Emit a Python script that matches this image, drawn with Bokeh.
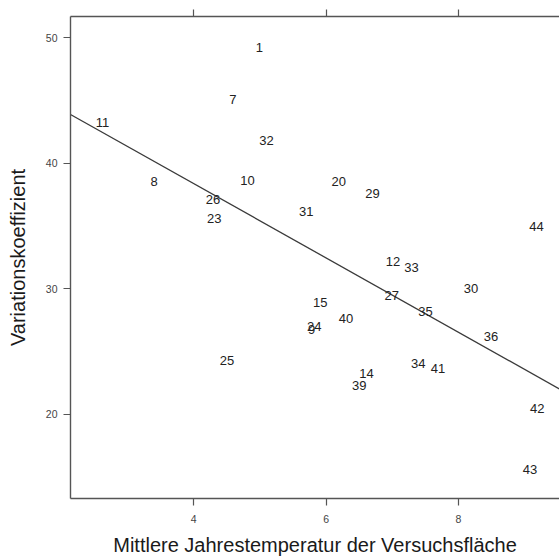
from bokeh.plotting import figure
from bokeh.models import (ColumnDataSource, LinearAxis, FixedTicker, Range1d,
                          CustomLabelingPolicy)
from bokeh.core.properties import value
from bokeh.embed import file_html
from bokeh.resources import INLINE

# Plot numbers (site IDs), mean annual temperature and coefficient of variation
site_ids = ["1", "7", "11", "32", "8", "10", "26", "23", "20", "29", "31", "44",
            "12", "33", "30", "27", "15", "35", "40", "24", "9", "36", "34", "41",
            "14", "39", "42", "43", "25"]
temperature = [4.99, 4.59, 2.62, 5.10, 3.40, 4.81, 4.29, 4.31, 6.19, 6.70, 5.70, 9.18,
               7.01, 7.29, 8.19, 6.99, 5.91, 7.50, 6.30, 5.82, 5.78, 8.49, 7.39, 7.69,
               6.61, 6.50, 9.19, 9.08, 4.50]
variation = [49.25, 45.11, 43.26, 41.80, 38.55, 38.60, 37.10, 35.61, 38.55, 37.63, 36.17, 34.93,
             32.16, 31.68, 30.04, 29.46, 28.91, 28.19, 27.61, 27.00, 26.73, 26.21, 24.04, 23.70,
             23.30, 22.32, 20.44, 15.58, 24.27]

# Fitted linear regression: variation = intercept + slope * temperature
reg_intercept = 50.21
reg_slope = -2.958

x_ticks = [4, 6, 8]
y_ticks = [20, 30, 40, 50]
x_lo, x_hi = 2.137, 9.526
y_lo, y_hi = 13.31, 51.69

FONT = "Liberation Sans"
AXIS_COLOR = "#555555"

p = figure(width=559, height=558, output_backend="svg", toolbar_location=None,
           x_range=Range1d(x_lo, x_hi), y_range=Range1d(y_lo, y_hi),
           min_border_left=70, min_border_right=0, min_border_top=16,
           min_border_bottom=58)
p.outline_line_color = None
p.xgrid.visible = False
p.ygrid.visible = False
p.background_fill_color = "white"
p.border_fill_color = "white"

for ax in (p.xaxis[0], p.yaxis[0]):
    ax.axis_line_color = AXIS_COLOR
    ax.axis_line_width = 1.4
    ax.major_tick_line_color = AXIS_COLOR
    ax.major_tick_line_width = 1.2
    ax.major_tick_in = 0
    ax.major_tick_out = 7
    ax.minor_tick_line_color = None
    ax.major_label_text_font = FONT
    ax.major_label_text_font_size = "10.5px"
    ax.major_label_text_color = "#444444"
    ax.axis_label_text_font = FONT
    ax.axis_label_text_font_size = "20px"
    ax.axis_label_text_font_style = "normal"
    ax.axis_label_text_color = "#1a1a1a"

p.xaxis.ticker = FixedTicker(ticks=x_ticks)
p.yaxis.ticker = FixedTicker(ticks=y_ticks)
p.xaxis.major_label_standoff = 9
p.yaxis.major_label_standoff = 6
p.xaxis.axis_label = "Mittlere Jahrestemperatur der Versuchsfläche"
p.yaxis.axis_label = "Variationskoeffizient"
p.xaxis.axis_label_standoff = 8
p.yaxis.axis_label_standoff = 14

# Tick marks along the top edge; its labels are all dropped by the policy
top = LinearAxis(ticker=FixedTicker(ticks=x_ticks))
top.axis_line_color = AXIS_COLOR
top.axis_line_width = 1.4
top.major_tick_line_color = AXIS_COLOR
top.major_tick_line_width = 1.2
top.major_tick_in = 0
top.major_tick_out = 7
top.minor_tick_line_color = None
top.major_label_text_font_size = "2px"
top.major_label_standoff = 0
top.major_label_policy = CustomLabelingPolicy(code="""
    for (const i of indices)
        indices.unset(i)
    return indices
""")
p.add_layout(top, "above")

# Regression line across the full x range
line_x = [x_lo, x_hi]
line_y = [reg_intercept + reg_slope * x for x in line_x]
p.line(line_x, line_y, line_color="#3a3a3a", line_width=1.3)

# Site IDs drawn as the point markers
src = ColumnDataSource(dict(x=temperature, y=variation, label=site_ids))
p.text(x="x", y="y", text="label", source=src, text_align="center",
       text_baseline="middle", text_font=value(FONT), text_font_size="13px",
       text_color="#222222")

open("out.html", "w").write(file_html(p, INLINE))
